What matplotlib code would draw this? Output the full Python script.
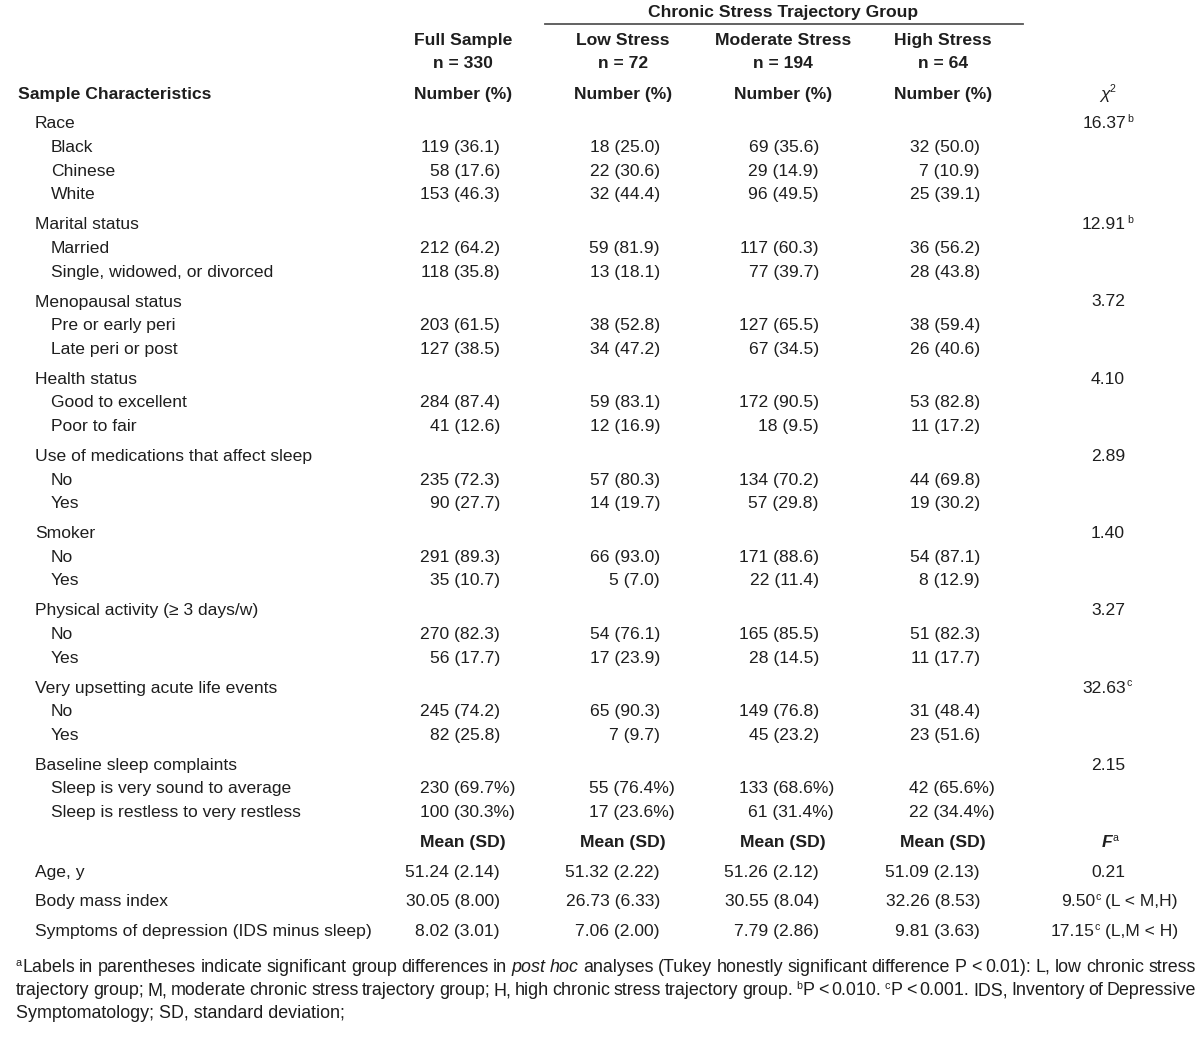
import matplotlib
matplotlib.use("Agg")
import matplotlib.pyplot as plt
from matplotlib.lines import Line2D

# ---------------- data ----------------
group_title = "Chronic Stress Trajectory Group"
col_names = ["Full Sample", "Low Stress", "Moderate Stress", "High Stress"]
col_n = ["n = 330", "n = 72", "n = 194", "n = 64"]

categories = ["Race", "Marital status", "Menopausal status", "Health status",
              "Use of medications that affect sleep", "Smoker",
              "Physical activity (\u2265 3 days/w)", "Very upsetting acute life events",
              "Baseline sleep complaints"]
sublevels = [["Black", "Chinese", "White"],
             ["Married", "Single, widowed, or divorced"],
             ["Pre or early peri", "Late peri or post"],
             ["Good to excellent", "Poor to fair"],
             ["No", "Yes"],
             ["No", "Yes"],
             ["No", "Yes"],
             ["No", "Yes"],
             ["Sleep is very sound to average", "Sleep is restless to very restless"]]
full_counts = [[119, 58, 153], [212, 118], [203, 127], [284, 41], [235, 90], [291, 35], [270, 56], [245, 82], [230, 100]]
full_pcts = [[36.1, 17.6, 46.3], [64.2, 35.8], [61.5, 38.5], [87.4, 12.6], [72.3, 27.7], [89.3, 10.7], [82.3, 17.7], [74.2, 25.8], [69.7, 30.3]]
low_counts = [[18, 22, 32], [59, 13], [38, 34], [59, 12], [57, 14], [66, 5], [54, 17], [65, 7], [55, 17]]
low_pcts = [[25.0, 30.6, 44.4], [81.9, 18.1], [52.8, 47.2], [83.1, 16.9], [80.3, 19.7], [93.0, 7.0], [76.1, 23.9], [90.3, 9.7], [76.4, 23.6]]
mod_counts = [[69, 29, 96], [117, 77], [127, 67], [172, 18], [134, 57], [171, 22], [165, 28], [149, 45], [133, 61]]
mod_pcts = [[35.6, 14.9, 49.5], [60.3, 39.7], [65.5, 34.5], [90.5, 9.5], [70.2, 29.8], [88.6, 11.4], [85.5, 14.5], [76.8, 23.2], [68.6, 31.4]]
high_counts = [[32, 7, 25], [36, 28], [38, 26], [53, 11], [44, 19], [54, 8], [51, 11], [31, 23], [42, 22]]
high_pcts = [[50.0, 10.9, 39.1], [56.2, 43.8], [59.4, 40.6], [82.8, 17.2], [69.8, 30.2], [87.1, 12.9], [82.3, 17.7], [48.4, 51.6], [65.6, 34.4]]
pct_sign = [False, False, False, False, False, False, False, False, True]
chi2_values = ["16.37", "12.91", "3.72", "4.10", "2.89", "1.40", "3.27", "32.63", "2.15"]
chi2_sup = ["b", "b", "", "", "", "", "", "c", ""]

cont_labels = ["Age, y", "Body mass index", "Symptoms of depression (IDS minus sleep)"]
full_mean = [51.24, 30.05, 8.02]
full_sd = [2.14, 8.00, 3.01]
low_mean = [51.32, 26.73, 7.06]
low_sd = [2.22, 6.33, 2.00]
mod_mean = [51.26, 30.55, 7.79]
mod_sd = [2.12, 8.04, 2.86]
high_mean = [51.09, 32.26, 9.81]
high_sd = [2.13, 8.53, 3.63]
f_values = ["0.21", "9.50", "17.15"]
f_sup = ["", "c", "c"]
f_post = ["", "(L < M,H)", "(L,M < H)"]

footnote_lines = [
    [("a", "sup"), ("Labels in parentheses indicate significant group differences in ", "n"), ("post hoc", "i"),
     (" analyses (Tukey honestly significant difference P < 0.01): L, low chronic stress", "n")],
    [("trajectory group; M, moderate chronic stress trajectory group; H, high chronic stress trajectory group. ", "n"),
     ("b", "sup"), ("P < 0.010. ", "n"), ("c", "sup"), ("P < 0.001. IDS, Inventory of Depressive", "n")],
    [("Symptomatology; SD, standard deviation;", "n")],
]

# ---------------- drawing ----------------
W, H = 1200, 1041
FAM = ["Liberation Sans Narrow", "Liberation Sans", "DejaVu Sans"]
FS = 12.6
FN = 12.9
INK = "#1e1e1e"

fig = plt.figure(figsize=(12, 10.41), dpi=100)
renderer = fig.canvas.get_renderer()


def fx(x):
    return x / W


def fy(y):
    return 1 - y / H


def txt(x, y, s, ha="left", size=FS, weight="normal", style="normal"):
    return fig.text(fx(x), fy(y), s, ha=ha, va="baseline", fontsize=size,
                    fontweight=weight, fontstyle=style, family=FAM, color=INK)


def props(st, size):
    p = dict(size=size, weight="normal", style="normal", dy=0.0)
    if "b" in st and st != "sup":
        p["weight"] = "bold"
    if "i" in st:
        p["style"] = "italic"
    if st == "sup":
        p["size"] = size * 0.6
        p["dy"] = -size * 100 / 72 * 0.36
    return p


def raw_w(s, p):
    t = fig.text(0, 0, s, fontsize=p["size"], fontweight=p["weight"],
                 fontstyle=p["style"], family=FAM)
    w = t.get_window_extent(renderer).width
    t.remove()
    return w


def measure(s, p):
    # advance width (including side bearings)
    return raw_w("|" + s + "|", p) - raw_w("||", p)


def words_of(runs):
    words = [[]]
    for text, st in runs:
        parts = text.split(" ")
        for i, part in enumerate(parts):
            if i > 0:
                words.append([])
            if part:
                words[-1].append((part, st))
    return [w for w in words if w]


def draw_runs(x, y, runs, ha="left", size=FS, justify=None):
    if justify is None:
        words = [[(t, st) for t, st in runs if t]]
    else:
        words = words_of(runs)
    space = measure(" ", props("n", size))
    wlist = []
    for w in words:
        wlist.append(sum(measure(piece, props(st, size)) for piece, st in w))
    total = sum(wlist) + space * (len(words) - 1)
    gap = space
    if justify is not None and len(words) > 1:
        gap = (justify - sum(wlist)) / (len(words) - 1)
        total = justify
    if ha == "center":
        x0 = x - total / 2
    elif ha == "right":
        x0 = x - total
    else:
        x0 = x
    cx = x0
    for w, ww in zip(words, wlist):
        px_ = cx
        for piece, st in w:
            p = props(st, size)
            lead = len(piece) - len(piece.lstrip(" "))
            off = measure(" " * lead, p) if lead else 0.0
            fig.text(fx(px_ + off), fy(y + p["dy"]), piece.strip(" "), ha="left", va="baseline",
                     fontsize=p["size"], fontweight=p["weight"], fontstyle=p["style"],
                     family=FAM, color=INK)
            px_ += measure(piece, p)
        cx += ww + gap


# layout constants
head_cx = [463, 623, 783, 943]
right_x = [500, 660, 819, 980]
stat_cx = 1108
x_head, x_cat, x_sub = 18, 35, 51

# header
txt(783, 17, group_title, ha="center", weight="bold")
fig.add_artist(Line2D([fx(545), fx(1023)], [fy(24), fy(24)], color="#555555", lw=1.3))
for cx, nm, n in zip(head_cx, col_names, col_n):
    txt(cx, 45, nm, ha="center", weight="bold")
    txt(cx, 68.5, n, ha="center", weight="bold")
    txt(cx, 98.5, "Number (%)", ha="center", weight="bold")
txt(x_head, 98.5, "Sample Characteristics", weight="bold")
draw_runs(stat_cx, 98.5, [("\u03c7", "i"), ("2", "sup")], ha="center")

cols = [(full_counts, full_pcts), (low_counts, low_pcts), (mod_counts, mod_pcts), (high_counts, high_pcts)]

y = 128.5
step = 23.6
gstep = 30.0
for ci, cat in enumerate(categories):
    txt(x_cat, y, cat)
    if chi2_sup[ci]:
        wv = measure(chi2_values[ci], props("n", FS))
        x0 = stat_cx - 4 - wv / 2
        txt(x0, y, chi2_values[ci])
        draw_runs(x0 + wv + 1, y, [(chi2_sup[ci], "sup")], ha="left")
    else:
        txt(stat_cx, y, chi2_values[ci], ha="center")
    for si, sub in enumerate(sublevels[ci]):
        y += step
        txt(x_sub, y, sub)
        for k, (cnts, pcts) in enumerate(cols):
            if pct_sign[ci]:
                s = f"{cnts[ci][si]} ({pcts[ci][si]:.1f}%)"
                txt(right_x[k] + 15, y, s, ha="right")
            else:
                s = f"{cnts[ci][si]} ({pcts[ci][si]:.1f})"
                txt(right_x[k], y, s, ha="right")
    y += gstep

# continuous header
for cx in head_cx:
    txt(cx, y, "Mean (SD)", ha="center", weight="bold")
draw_runs(stat_cx + 2, y, [("F", "bi"), ("a", "sup")], ha="center")

means = [(full_mean, full_sd), (low_mean, low_sd), (mod_mean, mod_sd), (high_mean, high_sd)]
for ri, lab in enumerate(cont_labels):
    y += 29.7
    txt(x_cat, y, lab)
    for k, (m, sd) in enumerate(means):
        txt(right_x[k], y, f"{m[ri]:.2f} ({sd[ri]:.2f})", ha="right")
    if f_post[ri]:
        draw_runs(1178, y, [(f_values[ri], "n"), (f_sup[ri], "sup"), (" " + f_post[ri], "n")], ha="right")
    else:
        txt(stat_cx, y, f_values[ri], ha="center")

# footnotes
fy0 = 972
for li, line in enumerate(footnote_lines):
    just = 1180 if li < 2 else None
    draw_runs(16, fy0 + li * 23.2, line, size=FN, justify=just)

fig.savefig("out.png", dpi=100, facecolor="white")
